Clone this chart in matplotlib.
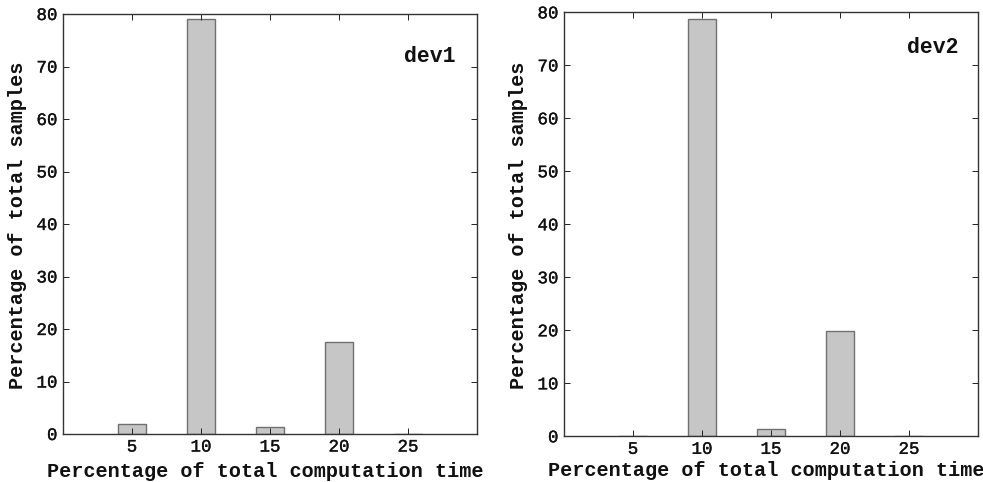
import matplotlib
matplotlib.use("Agg")
import matplotlib.pyplot as plt
import matplotlib.patheffects as pe

# Data
bins = [5, 10, 15, 20, 25]
dev1_values = [1.9, 79.0, 1.4, 17.6, 0.0]
dev2_values = [0.0, 78.8, 1.3, 19.9, 0.0]
xticks = [5, 10, 15, 20, 25]
yticks = [0, 10, 20, 30, 40, 50, 60, 70, 80]
xlabel = "Percentage of total computation time"
ylabel = "Percentage of total samples"

plt.rcParams['font.family'] = ['Liberation Mono', 'DejaVu Sans Mono']

fig = plt.figure(figsize=(9.83, 4.82), dpi=100)

W, H = 983, 482
panels = [
    dict(rect=[63 / W, (H - 434) / H, 414 / W, 420 / H], vals=dev1_values, name="dev1",
         name_pos=(0.886, 0.90), xl=(0.488, -0.09), yl=(-0.109, 0.498)),
    dict(rect=[564 / W, (H - 436.3) / H, 414 / W, 424 / H], vals=dev2_values, name="dev2",
         name_pos=(0.89, 0.916), xl=(0.488, -0.081), yl=(-0.111, 0.498)),
]

stroke = [pe.withStroke(linewidth=0.25, foreground="#111111")]

for p in panels:
    ax = fig.add_axes(p["rect"])
    ax.bar(bins, p["vals"], width=2, color="#c6c6c6", edgecolor="#707070", linewidth=1.0)
    ax.set_xlim(0, 30)
    ax.set_ylim(0, 80)
    ax.set_xticks(xticks)
    ax.set_yticks(yticks)
    ax.tick_params(direction="in", top=True, right=True, length=4, width=0.7,
                   labelsize=12.6, pad=4, colors="#222222", labelcolor="#111111")
    for lab in ax.get_xticklabels() + ax.get_yticklabels():
        lab.set_path_effects(stroke)
    for s in ax.spines.values():
        s.set_linewidth(1.0)
        s.set_color("#333333")
    ax.set_xlabel(xlabel, fontsize=14.5, fontweight="bold", color="#111111")
    ax.set_ylabel(ylabel, fontsize=14.5, fontweight="bold", color="#111111")
    ax.xaxis.set_label_coords(*p["xl"])
    ax.xaxis.label.set_verticalalignment("center")
    ax.yaxis.set_label_coords(*p["yl"])
    ax.yaxis.label.set_verticalalignment("center")
    ax.text(p["name_pos"][0], p["name_pos"][1], p["name"], transform=ax.transAxes,
            ha="center", va="center", fontsize=15.5, fontweight="bold", color="#111111")

fig.savefig("out.png", dpi=100)
